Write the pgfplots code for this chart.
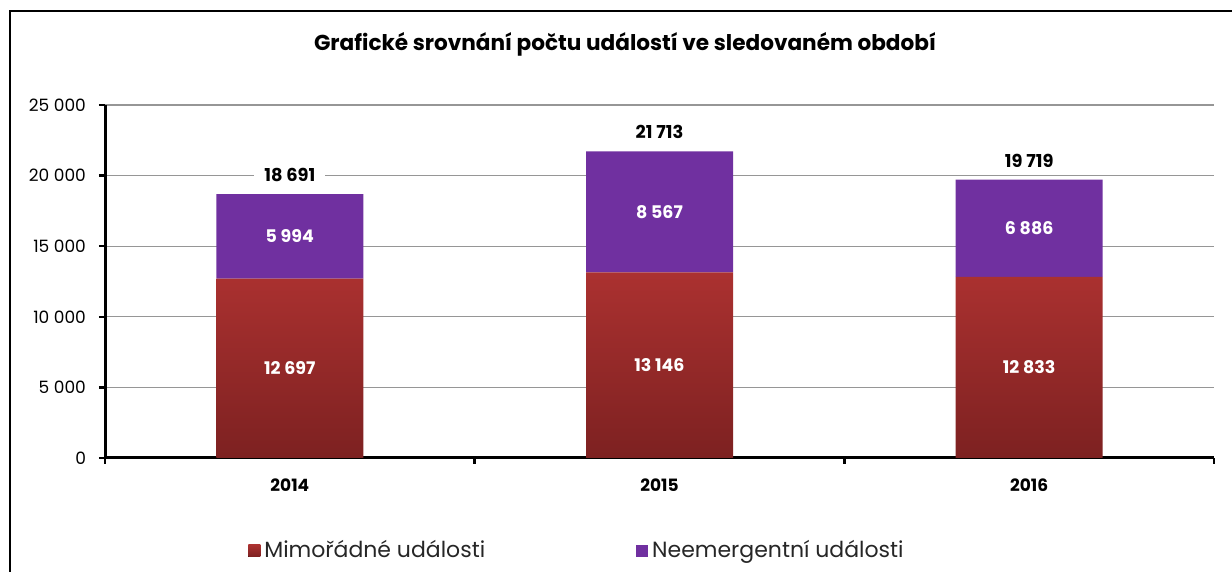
\documentclass[border=0pt]{standalone}
\usepackage{pgfplots}
\pgfplotsset{compat=1.18}
\usepackage{fontspec}
\setmainfont{Poppins}
\definecolor{redtop}{RGB}{171,49,48}
\definecolor{redbot}{RGB}{125,33,33}
\definecolor{purp}{RGB}{112,48,160}
\definecolor{gridgray}{RGB}{150,150,150}
\pgfplotsset{
  commonax/.style={
    at={(0pt,0pt)}, anchor=south west,
    scale only axis, width=554.5pt, height=176.5pt,
    xmin=-0.5, xmax=2.5, ymin=0, ymax=25000,
    bar width=73.5pt,
    /pgf/number format/assume math mode=true,
    /pgf/number format/1000 sep={\ },
  }
}
\begin{document}
\begin{tikzpicture}
\useasboundingbox (-52.5pt,-57pt) rectangle (563.5pt,229pt);
\draw[line width=0.7pt] (-47.5pt,-70pt) -- (-47.5pt,223.5pt) -- (580pt,223.5pt);
\node[font=\bfseries\fontsize{10.8}{13}\selectfont] at (260pt,207pt) {Grafické srovnání počtu událostí ve sledovaném období};
\begin{axis}[
  commonax,
  ybar stacked,
  xtick={0,1,2}, xticklabels={2014,2015,2016},
  minor xtick={-0.5,0.5,1.5,2.5},
  ytick={0,5000,10000,15000,20000,25000},
  scaled y ticks=false,
  axis x line*=bottom, axis y line*=left,
  axis line style={line width=1.5pt, -},
  tick align=outside,
  major tick length=3pt, minor tick length=3pt,
  every major x tick/.append style={draw=none},
  every minor x tick/.append style={black, line width=1.2pt},
  every major y tick/.append style={black, line width=1.2pt},
  ymajorgrids, grid style={gridgray, line width=0.6pt},
  xticklabel style={font=\bfseries\fontsize{8.5}{10}\selectfont, yshift=-4pt},
  yticklabel style={font=\fontsize{8.5}{10}\selectfont, xshift=-3pt},
  legend style={at={(0.4265,-0.263)}, anchor=center, draw=none, fill=none,
    legend columns=2, font=\fontsize{11}{13}\selectfont, text=black!85,
    /tikz/every even column/.append style={column sep=73.5pt}},
  legend image code/.code={\fill[#1] (0pt,-3pt) rectangle (6pt,3pt);},
  nodes near coords,
  point meta=explicit,
  every node near coord/.append style={anchor=center, text=white,
    font=\bfseries\fontsize{8.7}{10}\selectfont},
]
\addplot[draw=none, top color=redtop, bottom color=redbot]
  coordinates {(0,12697) [12697] (1,13146) [13146] (2,12833) [12833]};
\addlegendentry{Mimořádné události}
\addplot[draw=none, fill=purp]
  coordinates {(0,5994) [5994] (1,8567) [8567] (2,6886) [6886]};
\addlegendentry{Neemergentní události}
\end{axis}
\begin{axis}[
  commonax, ybar, hide axis,
  nodes near coords,
  every node near coord/.append style={anchor=south, text=black, fill=white,
    inner xsep=5pt, inner ysep=1.5pt, yshift=4.5pt,
    font=\bfseries\fontsize{8.9}{10}\selectfont},
]
\addplot[draw=none, fill=none]
  coordinates {(0,18691) (1,21713) (2,19719)};
\end{axis}
\end{tikzpicture}
\end{document}
